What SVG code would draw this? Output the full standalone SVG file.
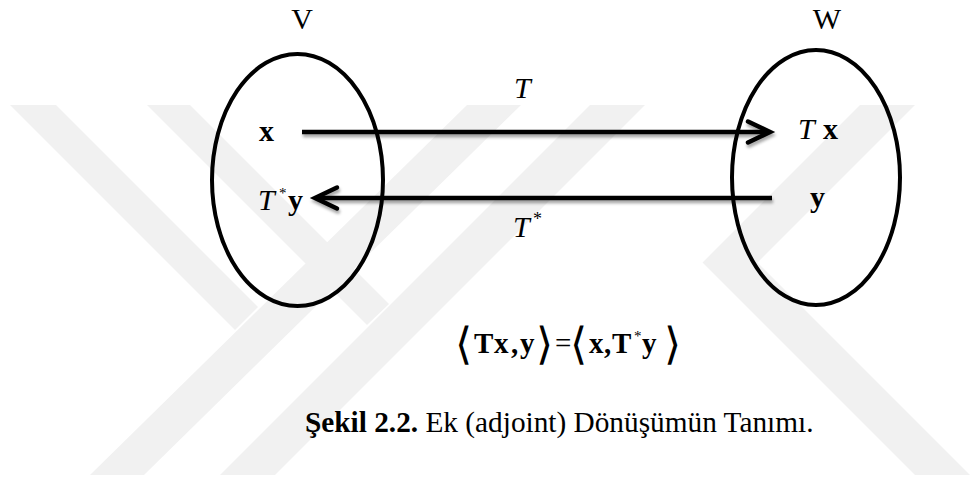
<svg xmlns="http://www.w3.org/2000/svg" width="976" height="480" viewBox="0 0 976 480">
<style>
.set{fill:none;stroke:#000;stroke-width:4}
.wm{fill:#f1f1f1}
.lbl{font-family:"Liberation Serif","Times New Roman",serif;fill:#000}
.it{font-style:italic}
.bd{font-weight:bold}
.arr{fill:none;stroke:#000;stroke-width:4.5}
.head{fill:none;stroke:#000;stroke-width:4.5;stroke-linecap:round;stroke-linejoin:miter}
.br{font-family:"DejaVu Sans",sans-serif;font-weight:200}
</style>
<defs>
<filter id="sh" x="-5%" y="-100%" width="110%" height="300%">
<feDropShadow dx="1" dy="3" stdDeviation="1.6" flood-color="#000" flood-opacity="0.35"/>
</filter>
</defs>
<rect width="976" height="480" fill="#fff"/>
<g id="watermark">
<polygon class="wm" points="467,105 521,105 144,475 90,475"/>
<polygon class="wm" points="10,105 56,105 258,307 235,330"/>
<polygon class="wm" points="147,105 190,105 389,304 367,325"/>
<polygon class="wm" points="590,105 645,105 275,475 220,475"/>
<polygon class="wm" points="860,105 915,105 757.5,262.5 970,475 915,475 702.5,262.5"/>
</g>
<g id="node-V">
<ellipse class="set" cx="297.5" cy="180" rx="85.5" ry="126"/>
<text class="lbl" x="302" y="29" font-size="30" text-anchor="middle">V</text>
<text class="lbl bd" x="259" y="141" font-size="30">x</text>
<text class="lbl" font-size="30"><tspan class="it" x="258" y="210">T</tspan><tspan x="279" y="198" font-size="15">*</tspan><tspan class="bd" x="288" y="210">y</tspan></text>
</g>
<g id="node-W">
<ellipse class="set" cx="816" cy="177.5" rx="84" ry="127.5"/>
<text class="lbl" x="827" y="29" font-size="30" text-anchor="middle">W</text>
<text class="lbl" font-size="30"><tspan class="it" x="798" y="139">T</tspan><tspan class="bd" x="823" y="139">x</tspan></text>
<text class="lbl bd" x="810" y="207" font-size="30">y</text>
</g>
<g id="connectors">
<g filter="url(#sh)">
<line class="arr" x1="302" y1="132" x2="768" y2="132"/>
<path class="head" d="M748,121.5 L770,132 L748,142.5"/>
</g>
<g filter="url(#sh)">
<line class="arr" x1="772" y1="198" x2="317" y2="198"/>
<path class="head" d="M337,187.5 L315,198 L337,208.5"/>
</g>
<text class="lbl it" x="514" y="98" font-size="30">T</text>
<text class="lbl" font-size="30"><tspan class="it" x="513" y="237">T</tspan><tspan x="533" y="225" font-size="18">*</tspan></text>
</g>
<g id="equation">
<text class="lbl" font-size="29" y="353"><tspan class="br" x="455" y="359" font-size="44">⟨</tspan><tspan class="bd" x="474" y="353">T</tspan><tspan class="bd" x="494">x</tspan><tspan class="bd" x="511">,</tspan><tspan class="bd" x="520">y</tspan><tspan class="br" x="536" y="359" font-size="44">⟩</tspan><tspan x="555" y="353">=</tspan><tspan class="br" x="570" y="359" font-size="44">⟨</tspan><tspan class="bd" x="589" y="353">x</tspan><tspan class="bd" x="604">,</tspan><tspan class="bd" x="612">T</tspan><tspan x="634" y="341" font-size="15">*</tspan><tspan class="bd" x="642" y="353">y</tspan><tspan class="br" x="664" y="359" font-size="44">⟩</tspan></text>
</g>
<g id="caption">
<text class="lbl" x="305" y="432" font-size="29.3"><tspan class="bd">Şekil 2.2.</tspan> Ek (adjoint) Dönüşümün Tanımı.</text>
</g>
</svg>
